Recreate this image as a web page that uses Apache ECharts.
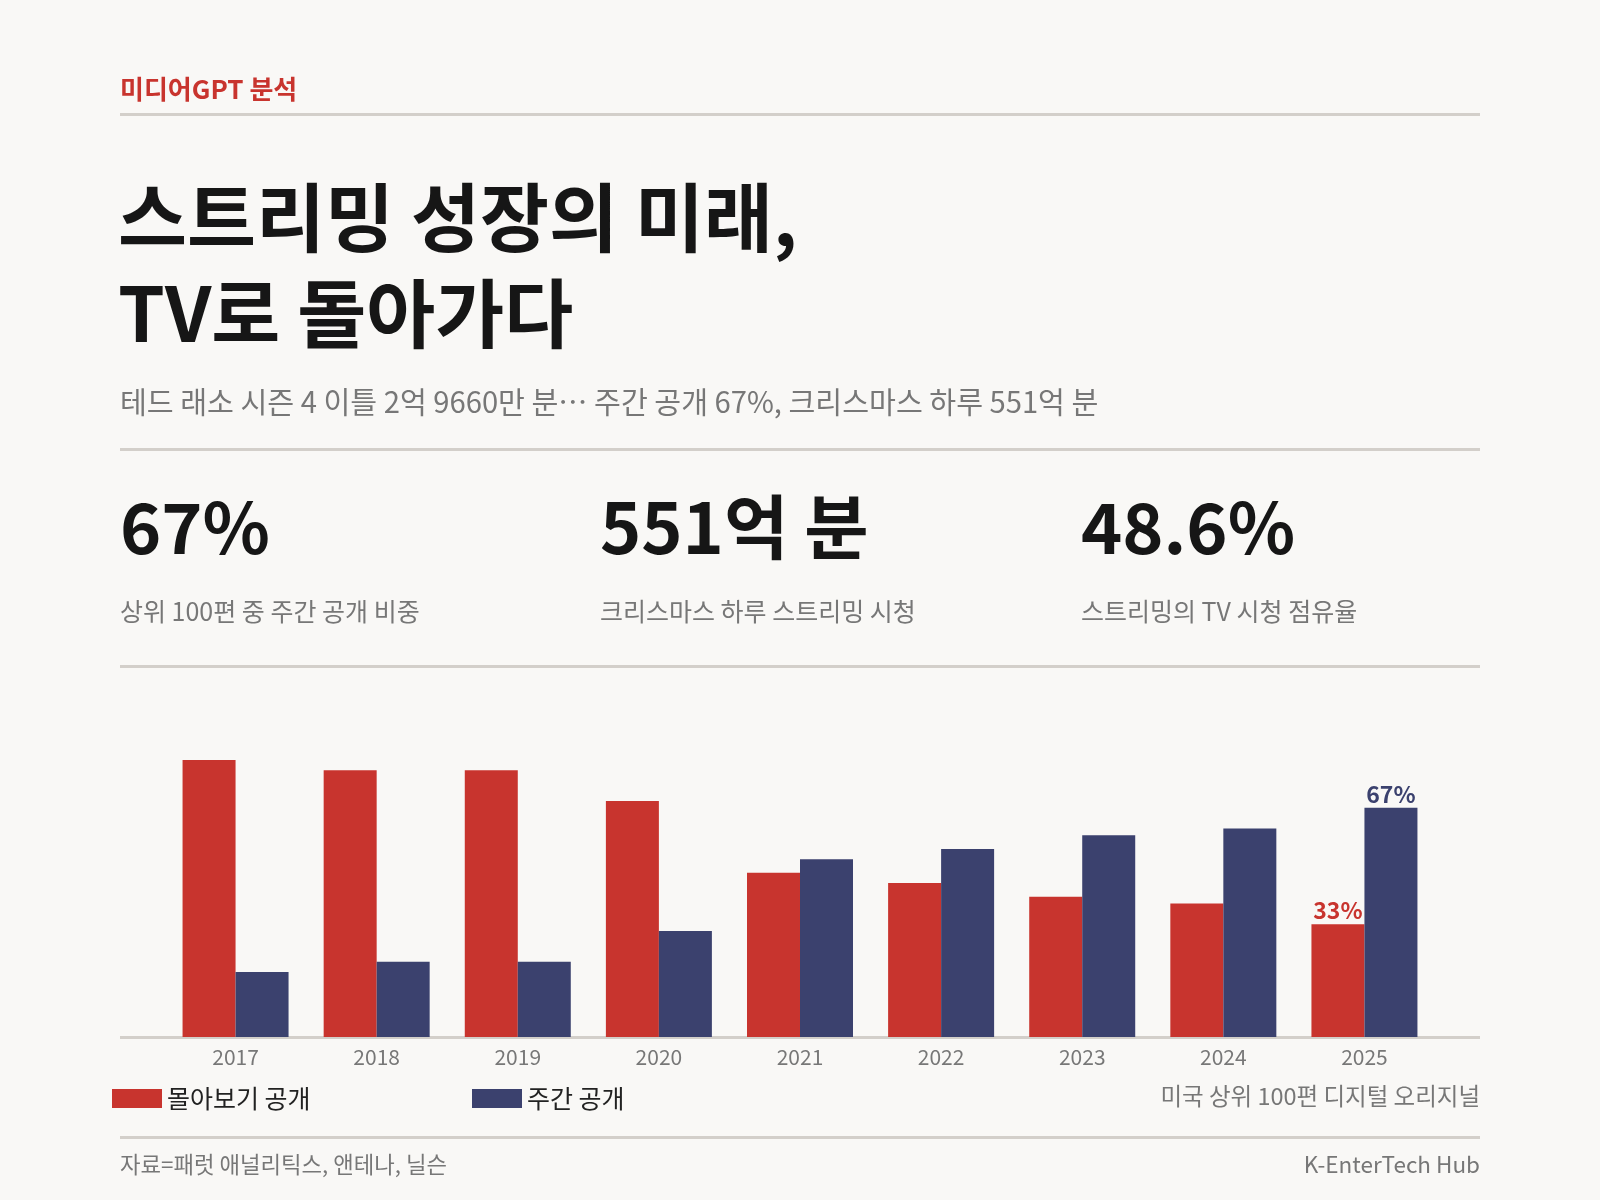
<!DOCTYPE html>
<html><head><meta charset="utf-8">
<script src="https://cdn.jsdelivr.net/npm/echarts@6/dist/echarts.min.js"></script>
<style>
html,body{margin:0;padding:0;background:#f9f8f6;}
#c{width:1600px;height:1200px;}
</style></head><body><div id="c"></div>
<script>
const years = ['2017','2018','2019','2020','2021','2022','2023','2024','2025'];
const bingeShare = [81, 78, 78, 69, 48, 45, 41, 39, 33];
const weeklyShare = [19, 22, 22, 31, 52, 55, 59, 61, 67];
const seriesNames = ['몰아보기 공개', '주간 공개'];
const kpiValues = ['67%', '551억 분', '48.6%'];
const kpiLabels = ['상위 100편 중 주간 공개 비중', '크리스마스 하루 스트리밍 시청', '스트리밍의 TV 시청 점유율'];

const RED = '#c8342e', NAVY = '#3b416e', LINE = '#d3cfca', GRAY = '#777777';
const FONT = '"Noto Sans CJK KR", "Noto Sans", sans-serif';
const last = years.length - 1;

const chart = echarts.init(document.getElementById('c'));
const graphics = [
  {type:'text', left:120, top:76, style:{text:'미디어GPT 분석', fill:RED, font:'bold 26px ' + FONT}},
  {type:'rect', shape:{x:120, y:113, width:1360, height:3}, style:{fill:LINE}},
  {type:'text', left:118, top:169, style:{text:'스트리밍 성장의 미래,\nTV로 돌아가다', fill:'#161616', font:'bold 75px ' + FONT, lineHeight:96}},
  {type:'text', left:120, top:387, style:{text:'테드 래소 시즌 4 이틀 2억 9660만 분… 주간 공개 67%, 크리스마스 하루 551억 분', fill:GRAY, font:'29.2px ' + FONT}},
  {type:'rect', shape:{x:120, y:448, width:1360, height:3}, style:{fill:LINE}},
  {type:'rect', shape:{x:120, y:665, width:1360, height:3}, style:{fill:LINE}},
  {type:'rect', shape:{x:120, y:1036, width:1360, height:3}, style:{fill:LINE}},
  {type:'text', right:120, top:1084, style:{text:'미국 상위 100편 디지털 오리지널', fill:GRAY, font:'23.5px ' + FONT, align:'right'}},
  {type:'rect', shape:{x:120, y:1136, width:1360, height:3}, style:{fill:LINE}},
  {type:'text', left:120, top:1153, style:{text:'자료=패럿 애널리틱스, 앤테나, 닐슨', fill:GRAY, font:'22.3px ' + FONT}},
  {type:'text', right:120, top:1153, style:{text:'K-EnterTech Hub', fill:GRAY, font:'22.5px ' + FONT, align:'right'}}
];
const kpiX = [120, 600, 1081];
kpiValues.forEach((v, i) => {
  graphics.push({type:'text', left:kpiX[i], top:492, style:{text:v, fill:'#161616', font:'bold 70px ' + FONT}});
  graphics.push({type:'text', left:kpiX[i], top:599, style:{text:kpiLabels[i], fill:GRAY, font:'25px ' + FONT}});
});

chart.setOption({
  backgroundColor:'#f9f8f6',
  textStyle:{fontFamily:FONT},
  animation:false,
  graphic:graphics,
  legend:[
    {left:107, top:1081, itemWidth:50, itemHeight:19, itemGap:10, icon:'rect', data:[seriesNames[0]],
     textStyle:{fontSize:25, color:'#222', fontFamily:FONT}},
    {left:467, top:1081, itemWidth:50, itemHeight:19, itemGap:10, icon:'rect', data:[seriesNames[1]],
     textStyle:{fontSize:25, color:'#222', fontFamily:FONT}}
  ],
  grid:{left:165, right:165, top:695, bottom:163, containLabel:false},
  xAxis:{type:'category', data:years, axisLine:{show:false}, axisTick:{show:false},
    axisLabel:{color:GRAY, fontSize:21, margin:10, fontFamily:FONT}},
  yAxis:{type:'value', min:0, max:100, show:false, splitLine:{show:false}},
  series:[
    {name:seriesNames[0], type:'bar', data:bingeShare.map((v, i) => i === last ? {value:v, label:{show:true}} : v),
     barWidth:53, barGap:'0%', itemStyle:{color:RED},
     label:{show:false, position:'top', formatter:'{c}%', color:RED, fontWeight:'bold', fontSize:23, distance:2, fontFamily:FONT}},
    {name:seriesNames[1], type:'bar', data:weeklyShare.map((v, i) => i === last ? {value:v, label:{show:true}} : v),
     barWidth:53, barGap:'0%', itemStyle:{color:NAVY},
     label:{show:false, position:'top', formatter:'{c}%', color:NAVY, fontWeight:'bold', fontSize:23, distance:2, fontFamily:FONT}}
  ]
});
</script></body></html>
